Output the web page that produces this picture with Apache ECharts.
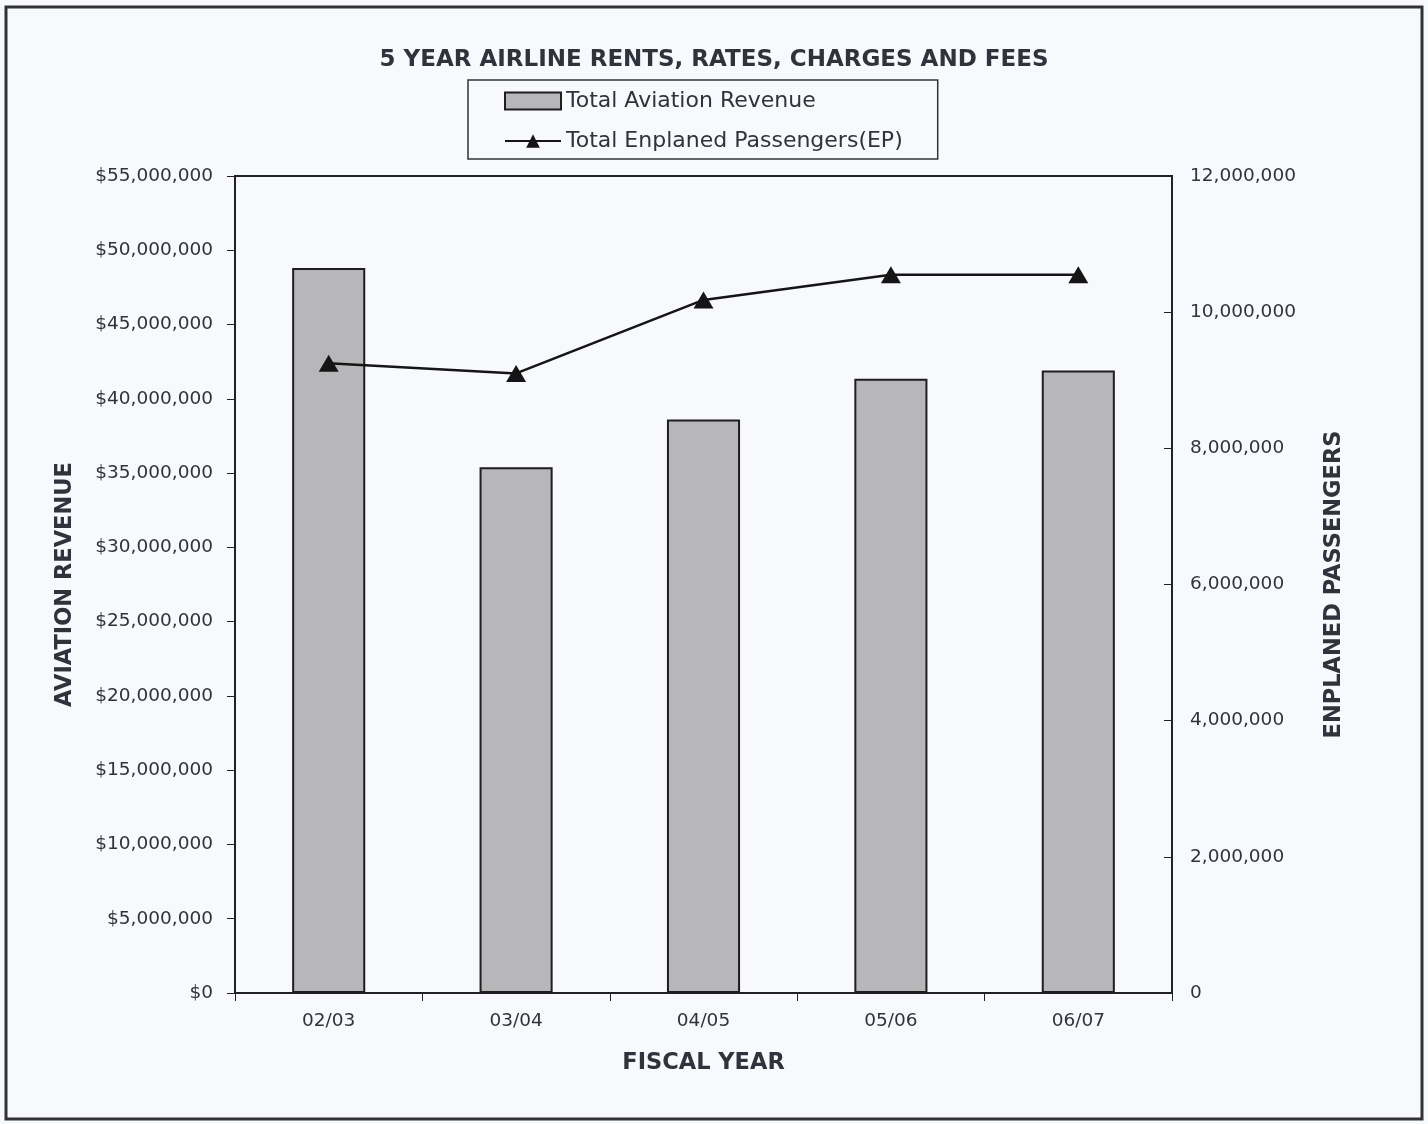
<!DOCTYPE html>
<html>
<head>
<meta charset="utf-8">
<title>5 Year Airline Rents, Rates, Charges and Fees</title>
<script src="https://cdn.jsdelivr.net/npm/echarts@6/dist/echarts.min.js"></script>
<style>
  html, body { margin: 0; padding: 0; background: #f7f9fd; }
  #chart { width: 1428px; height: 1124px; }
</style>
</head>
<body>
<div id="chart"></div>
<script>
// Fiscal years and the two measured series
const fiscalYears = ['02/03', '03/04', '04/05', '05/06', '06/07'];
const aviationRevenue = [48800000, 35400000, 38600000, 41350000, 41900000];
const enplanedPassengers = [9250000, 9100000, 10180000, 10550000, 10550000];

const chart = echarts.init(document.getElementById('chart'));
const ink = '#2f333b';
const font = '"DejaVu Sans", Arial, sans-serif';

function withCommas(v) {
  return String(Math.round(v)).replace(/\B(?=(\d{3})+(?!\d))/g, ',');
}

const nameStyle = { fontSize: 22.5, fontWeight: 'bold', color: ink, fontFamily: font };

chart.setOption({
  backgroundColor: '#f7f9fd',
  animation: false,
  textStyle: { fontFamily: font, color: ink },
  title: {
    text: '5 YEAR AIRLINE RENTS, RATES, CHARGES AND FEES',
    left: 'center',
    top: 44,
    textStyle: { fontSize: 23, fontWeight: 'bold', color: ink, fontFamily: font }
  },
  legend: {
    orient: 'vertical',
    left: 468,
    top: 80,
    padding: [10, 35, 7, 36],
    itemGap: 18,
    itemWidth: 56,
    itemHeight: 17,
    borderColor: '#333',
    borderWidth: 1.5,
    textStyle: { fontSize: 22, color: ink, fontFamily: font },
    data: [
      { name: 'Total Aviation Revenue', icon: 'rect' },
      { name: 'Total Enplaned Passengers(EP)' }
    ]
  },
  graphic: [{
    type: 'rect',
    shape: { x: 6, y: 7, width: 1416, height: 1112 },
    style: { fill: 'none', stroke: '#333', lineWidth: 3 },
    silent: true
  }],
  grid: {
    left: 235,
    right: 256,
    top: 176,
    bottom: 131,
    show: true,
    borderColor: '#222',
    borderWidth: 2
  },
  xAxis: {
    type: 'category',
    data: fiscalYears,
    name: 'FISCAL YEAR',
    nameLocation: 'middle',
    nameGap: 59,
    nameTextStyle: nameStyle,
    axisLine: { lineStyle: { color: '#222', width: 2 } },
    axisTick: { show: true, length: 8, lineStyle: { color: '#222' } },
    axisLabel: { fontSize: 18.5, color: ink, margin: 19 }
  },
  yAxis: [{
    type: 'value',
    min: 0,
    max: 55000000,
    interval: 5000000,
    name: 'AVIATION REVENUE',
    nameLocation: 'middle',
    nameGap: 158,
    nameRotate: 90,
    nameTextStyle: nameStyle,
    axisLine: { show: true, lineStyle: { color: '#222', width: 2 } },
    axisTick: { show: true, length: 8, lineStyle: { color: '#222' } },
    splitLine: { show: false },
    axisLabel: {
      fontSize: 18.5, color: ink, margin: 22,
      formatter: v => '$' + withCommas(v)
    }
  }, {
    type: 'value',
    min: 0,
    max: 12000000,
    interval: 2000000,
    position: 'right',
    name: 'ENPLANED PASSENGERS',
    nameLocation: 'middle',
    nameGap: 151,
    nameRotate: 90,
    nameTextStyle: nameStyle,
    axisLine: { show: true, lineStyle: { color: '#222', width: 2 } },
    axisTick: { show: true, inside: true, length: 8, lineStyle: { color: '#222' } },
    splitLine: { show: false },
    axisLabel: {
      fontSize: 18.5, color: ink, margin: 18,
      formatter: v => withCommas(v)
    }
  }],
  series: [{
    name: 'Total Aviation Revenue',
    type: 'bar',
    yAxisIndex: 0,
    data: aviationRevenue,
    barWidth: '39%',
    itemStyle: { color: '#b7b7b9', borderColor: '#1e1e1e', borderWidth: 2 }
  }, {
    name: 'Total Enplaned Passengers(EP)',
    type: 'line',
    yAxisIndex: 1,
    data: enplanedPassengers,
    symbol: 'triangle',
    symbolSize: [20, 17],
    lineStyle: { color: '#151515', width: 2.5 },
    itemStyle: { color: '#151515' }
  }]
});
</script>
</body>
</html>
